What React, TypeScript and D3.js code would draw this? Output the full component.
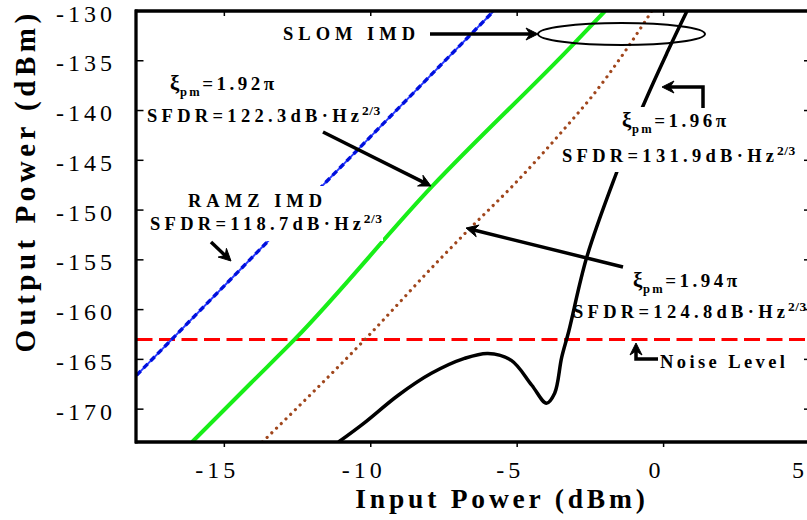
import React from 'react';
import * as d3 from 'd3';

// ---------- data ----------
const xTickValues = [-15, -10, -5, 0, 5];
const yTickValues = [-130, -135, -140, -145, -150, -155, -160, -165, -170];
const topTickValues = [-15, -10, -5, 0];

// RAMZ IMD (blue)
const ramzX = [-18, -10.4, -5.8];
const ramzY = [-166.6, -143.8, -130];
// xi_pm = 1.92 pi (green)
const greenX = [-16.1, -14.1, -12.6, -7.9, -3.2, -2.0];
const greenY = [-173.3, -167.4, -163, -147.6, -133.7, -130];
// xi_pm = 1.94 pi (brown dotted)
const brownX = [-13.7, -10.2, -7.66, -6.7, -5.1, -3.2, -2.45, -1.35, -0.4];
const brownY = [-173.3, -163, -155, -152.1, -147.4, -141.2, -138.6, -134.2, -130];
// xi_pm = 1.96 pi (black)
const blackX = [-11.1, -10.23, -9.06, -7.93, -6.8, -6.0, -5.2, -4.5, -4.0, -3.72, -3.48, -3.24, -2.62, -1.6, -0.74, 0.15, 0.8];
const blackY = [-173.3, -171.4, -168.6, -166.4, -164.9, -164.4, -165.1, -167.6, -169.4, -168.4, -164.8, -162.2, -154.7, -146.2, -139.8, -134.0, -130];
// noise level
const noiseLevel = -163;

const xDomain = [-18, 5];
const yDomain = [-173.3, -130];

const FONT = '"Liberation Serif", "Times New Roman", serif';

function zip(xs: number[], ys: number[]): [number, number][] {
  return xs.map((x, i) => [x, ys[i]]);
}

function arrowHead(x1: number, y1: number, x2: number, y2: number, len = 12, half = 6, notch = 8) {
  const a = Math.atan2(y2 - y1, x2 - x1);
  const c = Math.cos(a), s = Math.sin(a);
  const p = (bx: number, by: number) => [x2 + bx * c - by * s, y2 + bx * s + by * c];
  const b1 = p(-len, -half), n = p(-notch, 0), b2 = p(-len, half);
  return `M${x2},${y2}L${b1[0]},${b1[1]}L${n[0]},${n[1]}L${b2[0]},${b2[1]}Z`;
}

function Arrow({ pts }: { pts: [number, number][] }) {
  const n = pts.length;
  const [x1, y1] = pts[n - 2];
  const [x2, y2] = pts[n - 1];
  const a = Math.atan2(y2 - y1, x2 - x1);
  const shaft = pts.map((p, i) => (i === n - 1 ? [p[0] - 7 * Math.cos(a), p[1] - 7 * Math.sin(a)] : p));
  return (
    <g>
      <path d={'M' + shaft.map(p => p.join(',')).join('L')} fill="none" stroke="#000" strokeWidth={3.5} strokeLinejoin="miter" />
      <path d={arrowHead(x1, y1, x2, y2)} fill="#000" stroke="#000" strokeWidth={1} />
    </g>
  );
}

function XiLabel({ x, y, val }: { x: number; y: number; val: string }) {
  return (
    <text x={x} y={y} fontFamily={FONT} fontWeight="bold" fontSize={19} letterSpacing={3.5}>
      <tspan fontSize={21} letterSpacing={0.5}>ξ</tspan>
      <tspan fontSize={12.5} dy={6} letterSpacing={2.5}>pm</tspan>
      <tspan dy={-6}>{'=' + val + 'π'}</tspan>
    </text>
  );
}

function SfdrLabel({ x, y, val }: { x: number; y: number; val: string }) {
  return (
    <text x={x} y={y} fontFamily={FONT} fontWeight="bold" fontSize={18.5} letterSpacing={4.3}>
      <tspan>{'SFDR=' + val + 'dB·Hz'}</tspan>
      <tspan fontSize={13.5} dx={-1.5} dy={-7} letterSpacing={0.5}>2/3</tspan>
    </text>
  );
}

export default function App() {
  const W = 807, H = 520;
  const left = 136.5, right = 810, top = 11, bottom = 442;
  const x = d3.scaleLinear().domain(xDomain).range([left, right]);
  const y = d3.scaleLinear().domain(yDomain).range([bottom, top]);
  const line = d3.line<[number, number]>().x(d => x(d[0])).y(d => y(d[1])).curve(d3.curveMonotoneX);
  const smooth = d3.line<[number, number]>().x(d => x(d[0])).y(d => y(d[1])).curve(d3.curveCatmullRom.alpha(0.5));
  const straight = d3.line<[number, number]>().x(d => x(d[0])).y(d => y(d[1]));

  const ramz = zip(ramzX, ramzY);
  const green = zip(greenX, greenY);
  const brown = zip(brownX, brownY);
  const black = zip(blackX, blackY);

  return (
    <svg width={W} height={H} style={{ position: 'absolute', left: 0, top: 0, background: '#fff' }}>
      <defs>
        <clipPath id="plot">
          <rect x={left} y={top} width={right - left} height={bottom - top} />
        </clipPath>
      </defs>
      <rect x={0} y={0} width={W} height={H} fill="#fff" />

      <g clipPath="url(#plot)">
        <path d={straight([[xDomain[0], noiseLevel], [xDomain[1], noiseLevel]]) || ''} stroke="#ff0000" strokeWidth={3} strokeDasharray="16 6.5" fill="none" />
        <path d={straight(ramz) || ''} stroke="#2a3cff" strokeWidth={2} fill="none" />
        <path d={straight(ramz) || ''} stroke="#0010dd" strokeWidth={3.4} strokeDasharray="6 4" fill="none" />
        <path d={line(green) || ''} stroke="#18ee18" strokeWidth={4} fill="none" />
        <path d={line(brown) || ''} stroke="#a0461c" strokeWidth={3.2} strokeDasharray="0.01 6.6" strokeLinecap="round" fill="none" />
        <path d={smooth(black) || ''} stroke="#000" strokeWidth={3.5} fill="none" strokeLinejoin="round" />
      </g>

      {/* white label backgrounds */}
      <rect x={145} y={186} width={238} height={55} fill="#fff" />
      <rect x={612} y={107} width={125} height={39} fill="#fff" />
      <rect x={558} y={146} width={242} height={26} fill="#fff" />

      {/* ticks */}
      {yTickValues.map(v => (
        <line key={'yl' + v} x1={left} x2={left + 7} y1={y(v)} y2={y(v)} stroke="#000" strokeWidth={1.5} />
      ))}
      {yTickValues.map(v => (
        <line key={'yr' + v} x1={right - 6} x2={right} y1={y(v)} y2={y(v)} stroke="#000" strokeWidth={1.5} />
      ))}
      {topTickValues.map(v => (
        <line key={'xt' + v} x1={x(v)} x2={x(v)} y1={top} y2={top + 5} stroke="#000" strokeWidth={1.5} />
      ))}
      {xTickValues.map(v => (
        <line key={'xb' + v} x1={x(v)} x2={x(v)} y1={bottom} y2={bottom + 5} stroke="#000" strokeWidth={1.5} />
      ))}

      {/* frame */}
      <line x1={left - 1.5} x2={right + 2} y1={top} y2={top} stroke="#000" strokeWidth={3.3} />
      <line x1={left - 1.5} x2={right + 2} y1={bottom} y2={bottom} stroke="#000" strokeWidth={3.3} />
      <line x1={left - 0.5} x2={left - 0.5} y1={top - 1.5} y2={bottom + 1.5} stroke="#000" strokeWidth={3.3} />
      <line x1={right} x2={right} y1={top} y2={bottom} stroke="#000" strokeWidth={3.3} />

      {/* tick labels */}
      {yTickValues.map(v => (
        <text key={'ylab' + v} x={116} y={y(v) + 10.5} textAnchor="end" fontFamily={FONT} fontSize={24} letterSpacing={4}>
          {String(v)}
        </text>
      ))}
      {xTickValues.map(v => (
        <text key={'xlab' + v} x={x(v) - (v === 5 ? 10 : 7)} y={478} textAnchor="middle" fontFamily={FONT} fontSize={24} letterSpacing={4}>
          {String(v)}
        </text>
      ))}

      {/* axis titles */}
      <text x={502} y={508} textAnchor="middle" fontFamily={FONT} fontWeight="bold" fontSize={27.5} letterSpacing={3.8}>
        Input Power (dBm)
      </text>
      <text transform="translate(35,181) rotate(-90)" textAnchor="middle" fontFamily={FONT} fontWeight="bold" fontSize={29} letterSpacing={4.5}>
        Output Power (dBm)
      </text>

      {/* annotations */}
      <text x={283} y={40} fontFamily={FONT} fontWeight="bold" fontSize={18.5} letterSpacing={5}>SLOM  IMD</text>
      <Arrow pts={[[430, 34], [538, 34]]} />
      <ellipse cx={621.5} cy={34} rx={83.5} ry={11} fill="none" stroke="#000" strokeWidth={2} />

      <XiLabel x={170} y={90} val="1.92" />
      <SfdrLabel x={147} y={122} val="122.3" />
      <Arrow pts={[[323, 132], [431, 186]]} />

      <text x={188} y={207} fontFamily={FONT} fontWeight="bold" fontSize={18.5} letterSpacing={5}>RAMZ  IMD</text>
      <SfdrLabel x={150} y={230} val="118.7" />
      <Arrow pts={[[211, 242], [231, 261]]} />

      <XiLabel x={622} y={127} val="1.96" />
      <SfdrLabel x={562} y={162} val="131.9" />
      <Arrow pts={[[703, 108], [703, 87], [662, 87]]} />

      <XiLabel x={633} y={287} val="1.94" />
      <SfdrLabel x={573} y={318} val="124.8" />
      <Arrow pts={[[623, 267], [466, 228]]} />

      <text x={660} y={368} fontFamily={FONT} fontWeight="bold" fontSize={18.5} letterSpacing={3.4}>Noise Level</text>
      <Arrow pts={[[658, 359], [636, 359], [636, 343]]} />
    </svg>
  );
}
